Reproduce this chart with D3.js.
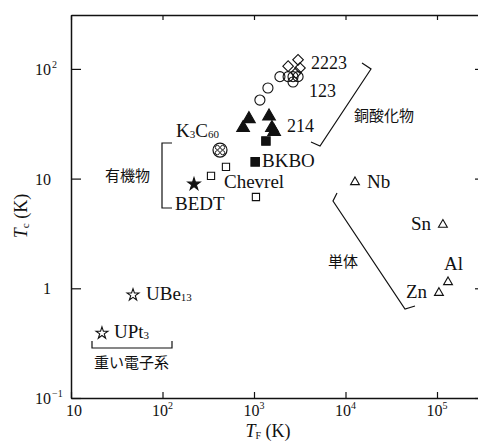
<!DOCTYPE html>
<html>
<head>
<meta charset="utf-8">
<script src="https://cdn.jsdelivr.net/npm/d3@7"></script>
<style>
  body { margin: 0; background: #fff; }
  text { font-family: "Liberation Serif", "Times New Roman", serif; fill: #111; }
  .jp { font-family: "Noto Sans CJK JP", sans-serif; }
</style>
</head>
<body>
<script>
var width = 478,
    height = 444;

// axis ticks
var xTicks = [10, 1e2, 1e3, 1e4, 1e5];
var xTickExp = ["", "2", "3", "4", "5"];
var yTicks = [0.1, 1, 10, 100];
var yTickBase = ["10", "1", "10", "10"];
var yTickExp = ["\u22121", "", "", "2"];

// [T_F (K), T_c (K)]
var cuprate2223 = [[3030, 121], [2360, 106], [3180, 102], [2880, 92]];
var cuprate123 = [[1920, 85], [2360, 85], [2670, 85], [3030, 85], [2670, 76], [1420, 67], [1160, 52]];
var cuprate214 = [[880, 35], [760, 29], [1460, 37], [1570, 29], [1660, 26.7]];
var bismuthates = [[1350, 22], [1030, 14.2]];
var fullerides = [[425, 18.2]];
var chevrel = [[494, 12.8], [339, 10.6], [1050, 6.8]];
var bedt = [[221, 8.9]];
var elements = [[12700, 9.3], [116000, 3.8], [132000, 1.14], [105000, 0.91]];
var heavyFermions = [[47.6, 0.87], [21.8, 0.39]];

var svg = d3.select("body").append("svg")
    .attr("width", width)
    .attr("height", height);

var x = d3.scaleLog().domain([10, Math.pow(10, 5.5)]).range([71, 482.75]);
var y = d3.scaleLog().domain([0.1, 310]).range([398, 15]);

// frame
function frame(g) {
  g.select(".domain").attr("stroke", "#111").attr("stroke-width", 1.5);
  g.selectAll(".tick line").attr("stroke", "#111").attr("stroke-width", 1.2);
}
svg.append("g").attr("transform", "translate(0,398)")
  .call(d3.axisBottom(x).tickValues(xTicks).tickSize(-6).tickSizeOuter(0).tickFormat(""))
  .call(frame);
svg.append("g").attr("transform", "translate(0,15)")
  .call(d3.axisTop(x).tickValues(xTicks).tickSize(-5).tickSizeOuter(0).tickFormat(""))
  .call(frame);
svg.append("g").attr("transform", "translate(71,0)")
  .call(d3.axisLeft(y).tickValues(yTicks).tickSize(-10).tickSizeOuter(0).tickFormat(""))
  .call(frame);
svg.append("g").attr("transform", "translate(483,0)")
  .call(d3.axisRight(y).tickValues(yTicks).tickSize(-8).tickSizeOuter(0).tickFormat(""))
  .call(frame);

// tick labels
xTicks.forEach(function (v, i) {
  var t = svg.append("text")
    .attr("x", x(v) + (i === 0 ? 3 : 0))
    .attr("y", 416)
    .attr("text-anchor", "middle")
    .attr("font-size", 16);
  t.append("tspan").text("10");
  if (xTickExp[i]) t.append("tspan").attr("font-size", 10).attr("dy", -7).text(xTickExp[i]);
});
yTicks.forEach(function (v, i) {
  svg.append("text")
    .attr("x", 51).attr("y", y(v) + 6)
    .attr("text-anchor", "end")
    .attr("font-size", 16)
    .text(yTickBase[i]);
  if (yTickExp[i]) {
    svg.append("text")
      .attr("x", 52).attr("y", y(v) - 1)
      .attr("font-size", 10)
      .text(yTickExp[i]);
  }
});

// axis titles
var xt = svg.append("text").attr("x", 268).attr("y", 437).attr("text-anchor", "middle").attr("font-size", 18);
xt.append("tspan").attr("font-style", "italic").text("T");
xt.append("tspan").attr("font-size", 10).attr("dy", 2).text("F");
xt.append("tspan").attr("dy", -2).text(" (K)");

var yt = svg.append("text").attr("transform", "translate(27,216) rotate(-90)")
  .attr("text-anchor", "middle").attr("font-size", 18);
yt.append("tspan").attr("font-style", "italic").text("T");
yt.append("tspan").attr("font-size", 11).attr("dy", 2).text("c");
yt.append("tspan").attr("dy", -2).text(" (K)");

// markers
function marks(data, type, size, fill, rot) {
  svg.append("g").selectAll("path")
    .data(data)
    .enter().append("path")
      .attr("transform", function (d) {
        return "translate(" + x(d[0]) + "," + y(d[1]) + ")" + (rot ? " rotate(" + rot + ")" : "");
      })
      .attr("d", d3.symbol(type, size))
      .attr("fill", fill)
      .attr("stroke", "#111")
      .attr("stroke-width", 1.1);
}
marks(cuprate2223, d3.symbolSquare, 56, "none", 45);
marks(cuprate123, d3.symbolCircle, 80, "none");
marks(cuprate214, d3.symbolTriangle, 70, "#111");
marks(bismuthates, d3.symbolSquare, 72, "#111");
marks(chevrel, d3.symbolSquare, 52, "none");
marks(bedt, d3.symbolStar, 48, "#111");
marks(elements, d3.symbolTriangle, 34, "none");
marks(heavyFermions, d3.symbolStar, 44, "none");

// C60 ball
var ball = svg.append("g").selectAll("g")
  .data(fullerides)
  .enter().append("g")
    .attr("transform", function (d) { return "translate(" + x(d[0]) + "," + y(d[1]) + ")"; });
ball.append("circle").attr("r", 7).attr("fill", "none").attr("stroke", "#111").attr("stroke-width", 1.2);
[[-2.6, -2.6], [2.6, -2.6], [-2.6, 2.6], [2.6, 2.6]].forEach(function (o) {
  ball.append("circle").attr("cx", o[0]).attr("cy", o[1]).attr("r", 2.1)
    .attr("fill", "none").attr("stroke", "#111").attr("stroke-width", 0.9);
});

// labels
function label(px, py, str, size) {
  return svg.append("text").attr("x", px).attr("y", py).attr("font-size", size || 19).text(str);
}
label(311, 69, "2223", 18);
label(309, 97, "123", 18);
label(287, 132, "214", 18);
label(262, 167, "BKBO");
label(224, 188, "Chevrel");
label(175, 210, "BEDT");
label(367, 188, "Nb");
label(411, 230, "Sn");
label(444, 270, "Al");
label(406, 298, "Zn");

var k = svg.append("text").attr("x", 176).attr("y", 137).attr("font-size", 19);
k.append("tspan").text("K");
k.append("tspan").attr("font-size", 11).attr("dy", 1).text("3");
k.append("tspan").attr("dy", -1).text("C");
k.append("tspan").attr("font-size", 11).attr("dy", 1).text("60");

var ube = svg.append("text").attr("x", 146).attr("y", 300).attr("font-size", 19);
ube.append("tspan").text("UBe");
ube.append("tspan").attr("font-size", 11).attr("dy", 1).text("13");
var upt = svg.append("text").attr("x", 114).attr("y", 338).attr("font-size", 19);
upt.append("tspan").text("UPt");
upt.append("tspan").attr("font-size", 11).attr("dy", 1).text("3");

svg.append("text").attr("class", "jp").attr("x", 354).attr("y", 121).attr("font-size", 15).text("銅酸化物");
svg.append("text").attr("class", "jp").attr("x", 105).attr("y", 181).attr("font-size", 15).text("有機物");
svg.append("text").attr("class", "jp").attr("x", 328).attr("y", 267).attr("font-size", 15).text("単体");
svg.append("text").attr("class", "jp").attr("x", 94).attr("y", 368).attr("font-size", 15).text("重い電子系");

// brackets
var line = d3.line();
[
  [[362, 63], [371, 69], [320, 146], [311, 142]],
  [[172, 143], [162, 143], [162, 208], [172, 208]],
  [[337, 193], [333, 201], [405, 309], [415, 306]],
  [[92, 341], [92, 348], [172, 348], [172, 341]]
].forEach(function (b) {
  svg.append("path").attr("d", line(b))
    .attr("fill", "none").attr("stroke", "#111").attr("stroke-width", 1.2);
});
</script>
</body>
</html>
